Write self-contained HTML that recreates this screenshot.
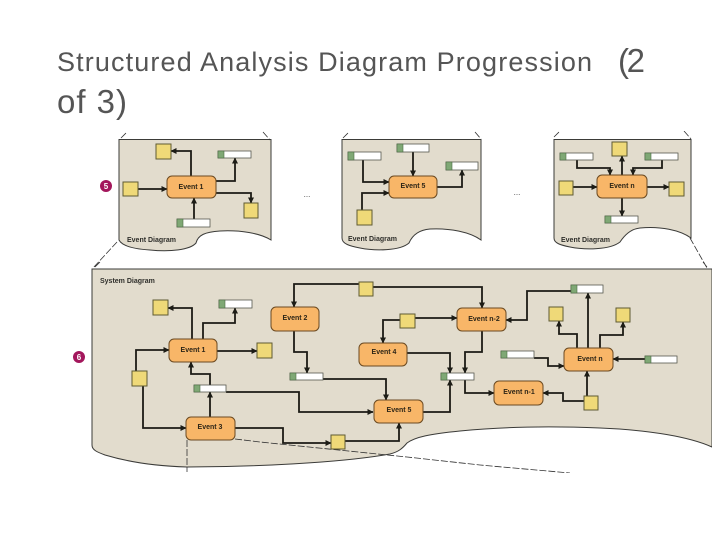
<!DOCTYPE html>
<html><head><meta charset="utf-8"><style>
html,body{margin:0;padding:0;background:#fff}
svg{display:block}
.p{fill:#e2dccd;stroke:#3a3a38;stroke-width:1}
.e{fill:#f8b668;stroke:#6b4a20;stroke-width:1}
.y{fill:#efd978;stroke:#5f5a30;stroke-width:1}
.c{fill:none;stroke:#1d1a14;stroke-width:1.8;marker-end:url(#a)}
.d{fill:none;stroke:#333;stroke-width:.8;stroke-dasharray:7 2}
.s{fill:#fff;stroke:#55584e;stroke-width:.8}
.g{fill:#7fa874;stroke:#4b6b45;stroke-width:.6}
.l{font:bold 7px "Liberation Sans",sans-serif;fill:#2d2518;text-anchor:middle}
.h{font:bold 7px "Liberation Sans",sans-serif;fill:#2f2f2b}
.t{font-family:"Liberation Sans",sans-serif;fill:#555}
.n{font:bold 8px "Liberation Sans",sans-serif;fill:#fff;text-anchor:middle}
</style></head><body>
<svg width="720" height="540" viewBox="0 0 720 540" xmlns="http://www.w3.org/2000/svg">
<defs>
<marker id="a" markerUnits="userSpaceOnUse" markerWidth="8" markerHeight="8" refX="5.5" refY="3" orient="auto"><path d="M0 0L6 3L0 6Z" fill="#1d1a14"/></marker>
<filter id="b" x="0" y="0" width="100%" height="100%"><feGaussianBlur stdDeviation="0.35"/></filter>
</defs>
<text class="t" x="57" y="71" font-size="27" textLength="535" lengthAdjust="spacing">Structured Analysis Diagram Progression</text>
<text class="t" x="618" y="72" font-size="33" textLength="27" lengthAdjust="spacing">(2</text>
<text class="t" x="57" y="113" font-size="33" textLength="70" lengthAdjust="spacing">of 3)</text>

<g filter="url(#b)">
<path class="p" d="M119 139.5H271V240C260 233 240 230 220 231C205 232 198 235 196 243C190 250 170 252 150 250C135 249 122 246 119 240Z"/>
<path class="p" d="M342 139.5H481V240C470 232 450 228 430 229C418 230 412 236 409 243C400 251 375 251 360 248C350 246 342 244 342 238Z"/>
<path class="p" d="M554 139.5H691V238C680 230 660 226 640 228C630 229 624 236 620 242C610 250 585 250 570 247C560 245 554 243 554 238Z"/>
<path class="p" d="M92 269H712V447C690 437 650 430 600 428C550 426 500 427 460 431C430 434 415 437 407 443C402 449 398 452 390 454C340 463 250 467 187 467C150 466 125 461 105 455C97 452 92 450 92 445Z"/>

<path class="d" d="M121 138L127 132M263 132L270 140M117 242L93 268M343 138L349 132M475 132L481 139M554 137L560 131M684 131L691 139M690 238L707 268M95 267L101 261M703 262L707 267M187 440V472M235 439L260 442L407 457L480 465L570 473"/>

<!-- panel 1 connectors -->
<path class="c" d="M191 176V151H171"/>
<path class="c" d="M216 181H235V158"/>
<path class="c" d="M138 189H167"/>
<path class="c" d="M216 193H251V203"/>
<path class="c" d="M194 219V198"/>
<!-- panel 2 -->
<path class="c" d="M363 160V182H389"/>
<path class="c" d="M413 152V176"/>
<path class="c" d="M437 187H462V170"/>
<path class="c" d="M362 210V193H389"/>
<!-- panel 3 -->
<path class="c" d="M577 160V168H610V175"/>
<path class="c" d="M662 160V168H633V175"/>
<path class="c" d="M622 175V156"/>
<path class="c" d="M573 187H597"/>
<path class="c" d="M647 187H669"/>
<path class="c" d="M622 198V216"/>
<!-- system -->
<path class="c" d="M192 339V308H168"/>
<path class="c" d="M203 339V323H235V308"/>
<path class="c" d="M217 351H257"/>
<path class="c" d="M136 371V350H169"/>
<path class="c" d="M143 386V428H186"/>
<path class="c" d="M210 385V374H191V362"/>
<path class="c" d="M210 417V392"/>
<path class="c" d="M226 392H299V412H373"/>
<path class="c" d="M235 428H283V443H331"/>
<path class="c" d="M345 441H399V423"/>
<path class="c" d="M359 284H294V307"/>
<path class="c" d="M373 287H482V308"/>
<path class="c" d="M294 331V352H307V373"/>
<path class="c" d="M323 379H386V400"/>
<path class="c" d="M400 320H383V343"/>
<path class="c" d="M415 318H457"/>
<path class="c" d="M407 353H450V373"/>
<path class="c" d="M423 412H450V380"/>
<path class="c" d="M482 331V352H465V373"/>
<path class="c" d="M465 380V393H494"/>
<path class="c" d="M571 291H527V320H506"/>
<path class="c" d="M577 348V334H559V321"/>
<path class="c" d="M588 348V293"/>
<path class="c" d="M600 348V335H623V322"/>
<path class="c" d="M534 358H548V366H564"/>
<path class="c" d="M645 359H613"/>
<path class="c" d="M587 396V371"/>
<path class="c" d="M584 401H563V393H543"/>

<!-- events -->
<rect class="e" x="167" y="176" width="49" height="22" rx="5"/>
<rect class="e" x="389" y="176" width="48" height="22" rx="5"/>
<rect class="e" x="597" y="175" width="50" height="23" rx="5"/>
<rect class="e" x="169" y="339" width="48" height="23" rx="5"/>
<rect class="e" x="186" y="417" width="49" height="23" rx="5"/>
<rect class="e" x="271" y="307" width="48" height="24" rx="5"/>
<rect class="e" x="457" y="308" width="49" height="23" rx="5"/>
<rect class="e" x="359" y="343" width="48" height="23" rx="5"/>
<rect class="e" x="374" y="400" width="49" height="23" rx="5"/>
<rect class="e" x="564" y="348" width="49" height="23" rx="5"/>
<rect class="e" x="494" y="381" width="49" height="24" rx="5"/>

<!-- yellow -->
<rect class="y" x="156" y="144" width="15" height="15"/>
<rect class="y" x="123" y="182" width="15" height="14"/>
<rect class="y" x="244" y="203" width="14" height="15"/>
<rect class="y" x="357" y="210" width="15" height="15"/>
<rect class="y" x="612" y="142" width="15" height="14"/>
<rect class="y" x="559" y="181" width="14" height="14"/>
<rect class="y" x="669" y="182" width="15" height="14"/>
<rect class="y" x="153" y="300" width="15" height="15"/>
<rect class="y" x="257" y="343" width="15" height="15"/>
<rect class="y" x="132" y="371" width="15" height="15"/>
<rect class="y" x="359" y="282" width="14" height="14"/>
<rect class="y" x="400" y="314" width="15" height="14"/>
<rect class="y" x="331" y="435" width="14" height="14"/>
<rect class="y" x="549" y="307" width="14" height="14"/>
<rect class="y" x="616" y="308" width="14" height="14"/>
<rect class="y" x="584" y="396" width="14" height="14"/>

<!-- stores -->
<rect class="s" x="218" y="151" width="33" height="7"/><rect class="g" x="218" y="151" width="6" height="7"/>
<rect class="s" x="177" y="219" width="33" height="8"/><rect class="g" x="177" y="219" width="6" height="8"/>
<rect class="s" x="348" y="152" width="33" height="8"/><rect class="g" x="348" y="152" width="6" height="8"/>
<rect class="s" x="397" y="144" width="32" height="8"/><rect class="g" x="397" y="144" width="6" height="8"/>
<rect class="s" x="446" y="162" width="32" height="8"/><rect class="g" x="446" y="162" width="6" height="8"/>
<rect class="s" x="560" y="153" width="33" height="7"/><rect class="g" x="560" y="153" width="6" height="7"/>
<rect class="s" x="645" y="153" width="33" height="7"/><rect class="g" x="645" y="153" width="6" height="7"/>
<rect class="s" x="605" y="216" width="33" height="7"/><rect class="g" x="605" y="216" width="6" height="7"/>
<rect class="s" x="219" y="300" width="33" height="8"/><rect class="g" x="219" y="300" width="6" height="8"/>
<rect class="s" x="194" y="385" width="32" height="7"/><rect class="g" x="194" y="385" width="6" height="7"/>
<rect class="s" x="290" y="373" width="33" height="7"/><rect class="g" x="290" y="373" width="6" height="7"/>
<rect class="s" x="441" y="373" width="33" height="7"/><rect class="g" x="441" y="373" width="6" height="7"/>
<rect class="s" x="571" y="285" width="32" height="8"/><rect class="g" x="571" y="285" width="6" height="8"/>
<rect class="s" x="501" y="351" width="33" height="7"/><rect class="g" x="501" y="351" width="6" height="7"/>
<rect class="s" x="645" y="356" width="32" height="7"/><rect class="g" x="645" y="356" width="6" height="7"/>

<!-- labels -->
<text class="l" x="191" y="189">Event 1</text>
<text class="l" x="413" y="188">Event 5</text>
<text class="l" x="622" y="188">Event n</text>
<text class="l" x="193" y="352">Event 1</text>
<text class="l" x="210" y="429">Event 3</text>
<text class="l" x="295" y="320">Event 2</text>
<text class="l" x="484" y="321">Event n-2</text>
<text class="l" x="384" y="354">Event 4</text>
<text class="l" x="399" y="412">Event 5</text>
<text class="l" x="590" y="361">Event n</text>
<text class="l" x="519" y="394">Event n-1</text>
<text class="h" x="127" y="242">Event Diagram</text>
<text class="h" x="348" y="241">Event Diagram</text>
<text class="h" x="561" y="242">Event Diagram</text>
<text class="h" x="100" y="283">System Diagram</text>

<circle cx="106" cy="186" r="6" fill="#a3195b"/><text class="n" x="106" y="189">5</text>
<circle cx="79" cy="357" r="6" fill="#a3195b"/><text class="n" x="79" y="360">6</text>
<text x="307" y="197" font-family="Liberation Sans,sans-serif" font-size="8" fill="#444" text-anchor="middle">...</text>
<text x="517" y="195" font-family="Liberation Sans,sans-serif" font-size="8" fill="#444" text-anchor="middle">...</text>
</g>
</svg>
</body></html>
